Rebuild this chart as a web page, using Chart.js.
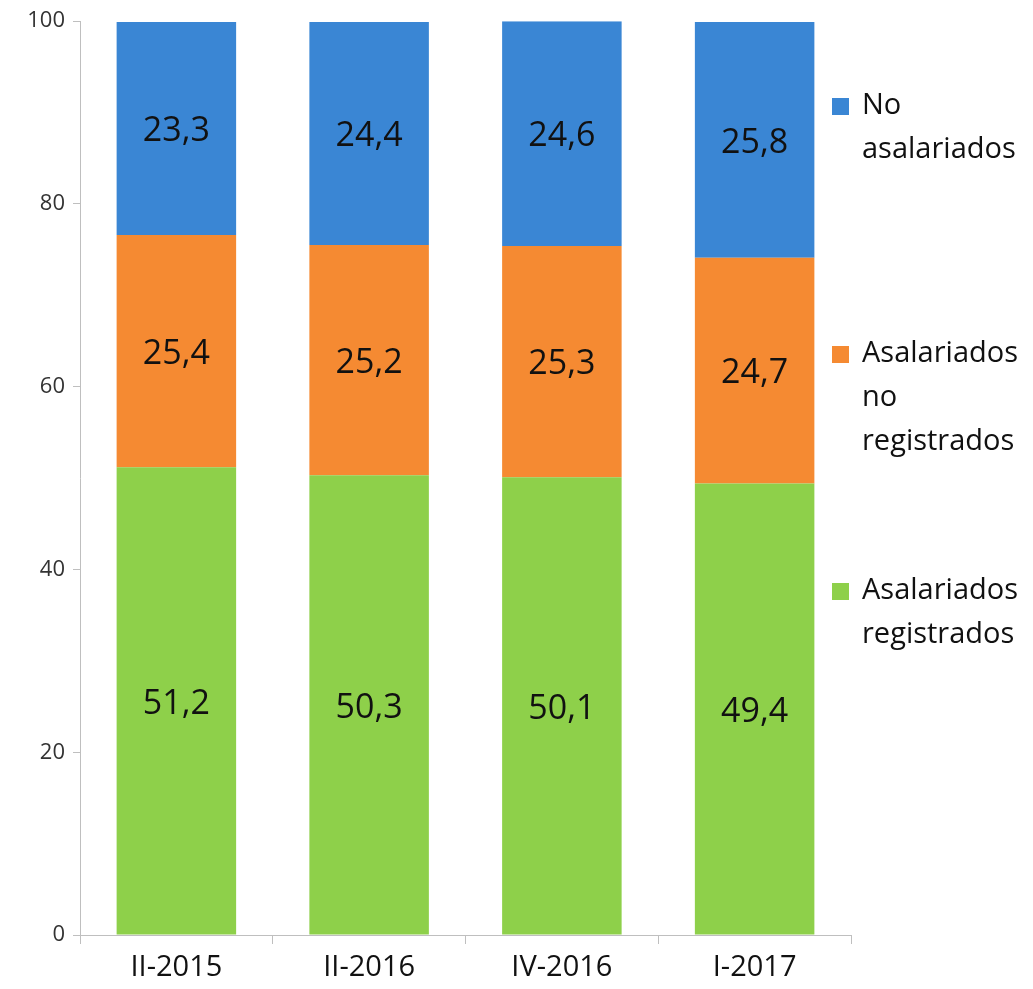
<!DOCTYPE html>
<html>
<head>
<meta charset="utf-8">
<script src="https://cdn.jsdelivr.net/npm/chart.js@4"></script>
<style>
  html, body { margin: 0; padding: 0; background: #fff; }
  #wrap { position: relative; width: 1033px; height: 989px; }
</style>
</head>
<body>
<div id="wrap"><canvas id="empleo-chart"></canvas></div>
<script>
const categories = ["II-2015", "II-2016", "IV-2016", "I-2017"];
const registrados = [51.2, 50.3, 50.1, 49.4];
const noRegistrados = [25.4, 25.2, 25.3, 24.7];
const noAsalariados = [23.3, 24.4, 24.6, 25.8];
const yTicks = [0, 20, 40, 60, 80, 100];

const FONT = "'Open Sans', 'Noto Sans', sans-serif";

// etiquetas de valor centradas en cada segmento
const valueLabels = {
  id: "valueLabels",
  afterDatasetsDraw(chart) {
    const ctx = chart.ctx;
    ctx.save();
    ctx.font = "34px " + FONT;
    ctx.fillStyle = "#111";
    ctx.textAlign = "center";
    ctx.textBaseline = "middle";
    chart.data.datasets.forEach((ds, i) => {
      chart.getDatasetMeta(i).data.forEach((bar, j) => {
        const y = (bar.y + bar.base) / 2;
        ctx.fillText(ds.data[j].toFixed(1).replace(".", ","), bar.x, y + 3);
      });
    });
    ctx.restore();
  }
};

// leyenda a la derecha, con texto en varias líneas
const sideLegend = {
  id: "sideLegend",
  afterDraw(chart) {
    const ctx = chart.ctx;
    const items = [
      { color: "#3a86d4", lines: ["No", "asalariados"], y: 106 },
      { color: "#f58a32", lines: ["Asalariados", "no", "registrados"], y: 354 },
      { color: "#8ed04a", lines: ["Asalariados", "registrados"], y: 591 }
    ];
    ctx.save();
    ctx.font = "29px " + FONT;
    ctx.textBaseline = "middle";
    items.forEach(it => {
      ctx.fillStyle = it.color;
      ctx.fillRect(832, it.y - 8, 17, 17);
      ctx.fillStyle = "#111";
      it.lines.forEach((l, k) => ctx.fillText(l, 862, it.y + k * 44));
    });
    ctx.restore();
  }
};

const config = {
  type: "bar",
  data: {
    labels: categories,
    datasets: [
      { label: "Asalariados registrados", data: registrados, backgroundColor: "#8ed04a" },
      { label: "Asalariados no registrados", data: noRegistrados, backgroundColor: "#f58a32" },
      { label: "No asalariados", data: noAsalariados, backgroundColor: "#3a86d4" }
    ]
  },
  options: {
    responsive: false,
    animation: false,
    layout: { padding: { top: 14, right: 182, left: 0, bottom: 0 } },
    datasets: { bar: { barPercentage: 0.62, categoryPercentage: 1 } },
    plugins: { legend: { display: false }, tooltip: { enabled: false } },
    scales: {
      x: {
        stacked: true,
        grid: { display: true, drawOnChartArea: false, offset: true, tickLength: 9, color: "#bfbfbf" },
        border: { color: "#bfbfbf" },
        ticks: { color: "#111", font: { size: 29, family: FONT }, padding: 6 },
        afterFit(s) { s.height = 54; }
      },
      y: {
        stacked: true,
        min: 0,
        max: 100,
        afterBuildTicks(s) { s.ticks = yTicks.map(v => ({ value: v })); },
        grid: { display: true, drawOnChartArea: false, tickLength: 7, color: "#bfbfbf" },
        border: { color: "#bfbfbf" },
        ticks: { color: "#333", font: { size: 22, family: FONT }, padding: 8 },
        afterFit(s) { s.width = 80; }
      }
    }
  },
  plugins: [valueLabels, sideLegend]
};

const cv = document.getElementById("empleo-chart");
cv.width = 1033;
cv.height = 989;
new Chart(cv.getContext("2d"), config);
</script>
</body>
</html>
